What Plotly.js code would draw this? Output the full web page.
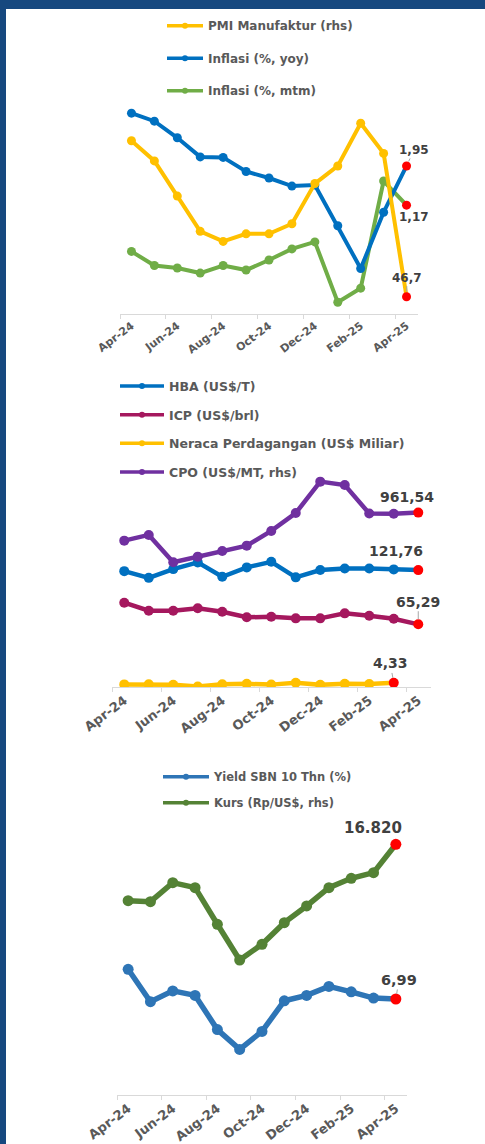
<!DOCTYPE html>
<html><head><meta charset="utf-8">
<script src="https://cdn.plot.ly/plotly-3.0.1.min.js"></script>
<style>html,body{margin:0;padding:0;background:#fff;} #chart{width:485px;height:1144px;}</style>
</head><body><div id="chart"></div>
<script>
// ---------- data ----------
const months = ['Apr-24','May-24','Jun-24','Jul-24','Aug-24','Sep-24','Oct-24','Nov-24','Dec-24','Jan-25','Feb-25','Mar-25','Apr-25'];

// Chart 1
const pmiManufaktur = [52.9,52.1,50.7,49.3,48.9,49.2,49.2,49.6,51.2,51.9,53.6,52.4,46.7];
const inflasiYoy    = [3.00,2.84,2.51,2.13,2.12,1.84,1.71,1.55,1.57,0.76,-0.09,1.03,1.95];
const inflasiMtm    = [0.25,-0.03,-0.08,-0.18,-0.03,-0.12,0.08,0.30,0.44,-0.76,-0.48,1.65,1.17];

// Chart 2
const hba    = [120.7,113.7,122.8,129.8,114.8,124.6,130.4,114.2,121.8,123.5,123.5,122.5,121.76];
const icp    = [87.8,79.5,79.5,82.0,78.4,72.6,73.2,71.5,71.5,76.7,74.2,71.1,65.29];
const neraca = [2.72,2.93,2.39,0.47,2.90,3.26,2.48,4.42,2.24,3.45,3.12,4.33];
const cpo    = [849.5,872.3,763.0,785.5,808.3,829.5,888.3,960.0,1085.5,1072.0,958.0,957.0,961.54];

// Chart 3
const yieldSbn = [7.32,6.96,7.08,7.03,6.65,6.43,6.63,6.97,7.03,7.13,7.07,7.00,6.99];
const kurs     = [16121,16108,16344,16282,15828,15385,15580,15848,16055,16282,16398,16468,16820];

// ---------- helpers ----------
const W = 485, H = 1144;
const px = v => v / W;
const py = v => 1 - v / H;
const FONT = 'DejaVu Sans, Verdana, sans-serif';
const RED = '#FF0000';
const lastRed = (arr, c) => arr.map((_, i) => i === arr.length - 1 ? RED : c);

const traces = [];
function line(name, x, y, color, xa, ya, legend, rank, width, msize) {
  traces.push({
    type: 'scatter', mode: 'lines+markers', name: name,
    x: x, y: y, xaxis: xa, yaxis: ya,
    line: {color: color, width: width},
    marker: {color: lastRed(y, color), size: msize, line: {width: 0}},
    legendgroup: name, showlegend: false,
    hoverinfo: 'skip'
  });
  // legend entry (no marks drawn), with a smaller legend symbol
  traces.push({
    type: 'scatter', mode: 'lines+markers', name: name,
    x: [null], y: [null], xaxis: xa, yaxis: ya,
    line: {color: color, width: 3.5},
    marker: {color: color, size: 6, line: {width: 0}},
    legend: legend, legendgroup: name, legendrank: rank, showlegend: true,
    hoverinfo: 'skip'
  });
}

// chart 1
line('Inflasi (%, mtm)', months, inflasiMtm, '#70AD47', 'x', 'y', 'legend', 3, 4, 9);
line('Inflasi (%, yoy)', months, inflasiYoy, '#0070C0', 'x', 'y', 'legend', 2, 4, 9);
line('PMI Manufaktur (rhs)', months, pmiManufaktur, '#FFC000', 'x', 'y2', 'legend', 1, 4, 9);
// chart 2
line('HBA (US$/T)', months, hba, '#0070C0', 'x2', 'y3', 'legend2', 1, 4.5, 10);
line('ICP (US$/brl)', months, icp, '#A5185E', 'x2', 'y3', 'legend2', 2, 4.5, 10);
line('Neraca Perdagangan (US$ Miliar)', months.slice(0, neraca.length), neraca, '#FFC000', 'x2', 'y3', 'legend2', 3, 4.5, 10);
line('CPO (US$/MT, rhs)', months, cpo, '#7030A0', 'x2', 'y4', 'legend2', 4, 4.5, 10);
// chart 3
line('Yield SBN 10 Thn (%)', months, yieldSbn, '#2E75B6', 'x3', 'y5', 'legend3', 1, 5.5, 11);
line('Kurs (Rp/US$, rhs)', months, kurs, '#548235', 'x3', 'y6', 'legend3', 2, 5.5, 11);

function xaxis(x0, x1, anchor, fs) {
  return {
    domain: [px(x0), px(x1)], anchor: anchor, type: 'category',
    categoryorder: 'array', categoryarray: months,
    range: [-0.5, months.length - 0.5],
    tickmode: 'linear', tick0: 0, dtick: 2, tickson: 'boundaries',
    ticks: 'outside', ticklen: 4, tickcolor: '#D9D9D9', tickwidth: 1,
    showline: true, linecolor: '#D9D9D9', linewidth: 1,
    showgrid: false, zeroline: false, tickangle: -37,
    tickfont: {family: FONT, size: fs, color: '#595959', weight: 'bold'},
    fixedrange: true
  };
}
function yaxis(top, bottom, range, overlay) {
  const a = {domain: [py(bottom), py(top)], range: range, visible: false, fixedrange: true, anchor: 'free', position: 0};
  if (overlay) { a.overlaying = overlay; a.side = 'right'; }
  return a;
}
function legend(x, yTop, fs, iw, gap) {
  return {
    x: px(x), y: py(yTop), xanchor: 'left', yanchor: 'top',
    orientation: 'v', traceorder: 'grouped', tracegroupgap: gap,
    itemwidth: iw, bgcolor: 'rgba(0,0,0,0)', borderwidth: 0,
    font: {family: FONT, size: fs, color: '#595959', weight: 'bold'},
    itemclick: false, itemdoubleclick: false
  };
}
function label(text, x, y, xref, yref, ax, ay, fs, leader) {
  return {
    text: text, x: x, y: y, xref: xref, yref: yref, ax: ax, ay: ay,
    showarrow: true, arrowhead: 0, arrowwidth: 1, standoff: 5,
    arrowcolor: leader ? '#A6A6A6' : 'rgba(0,0,0,0)',
    font: {family: FONT, size: fs, color: '#404040', weight: 'bold'}
  };
}

const n = months.length - 1;
const layout = {
  width: W, height: H,
  margin: {l: 0, r: 0, t: 0, b: 0, pad: 0},
  paper_bgcolor: '#FFFFFF', plot_bgcolor: 'rgba(0,0,0,0)',
  showlegend: true,
  xaxis:  xaxis(120, 418, 'y', 11),
  xaxis2: xaxis(112, 430.5, 'y3', 13),
  xaxis3: xaxis(117, 407, 'y5', 13),
  yaxis:  yaxis(88, 314.3, [-1, 3.5]),
  yaxis2: yaxis(88, 314.3, [46, 55], 'y'),
  yaxis3: yaxis(471, 687, [0, 225]),
  yaxis4: yaxis(471, 687, [264, 1128], 'y3'),
  yaxis5: yaxis(830, 1095, [5.923, 8.868]),
  yaxis6: yaxis(830, 1095, [13711, 16997], 'y5'),
  legend:  legend(162, 11.2, 12, 36, 13.5),
  legend2: legend(115, 371.4, 12.5, 44, 9.4),
  legend3: legend(158, 762.2, 11.5, 46, 7),
  annotations: [
    label('1,95', months[n], inflasiYoy[n], 'x', 'y', 7.5, -16, 12, true),
    label('1,17', months[n], inflasiMtm[n], 'x', 'y', 7.5, 12, 12, false),
    label('46,7', months[n], pmiManufaktur[n], 'x', 'y2', 0.5, -19, 12, true),
    label('961,54', months[n], cpo[n], 'x2', 'y4', -11, -16, 14, false),
    label('121,76', months[n], hba[n], 'x2', 'y3', -22, -19, 14, false),
    label('65,29', months[n], icp[n], 'x2', 'y3', 0, -22.6, 14, true),
    label('4,33', months[neraca.length - 1], neraca[neraca.length - 1], 'x2', 'y3', -3.5, -19.4, 14, true),
    label('16.820', months[n], kurs[n], 'x3', 'y6', -22.7, -16.6, 15, false),
    label('6,99', months[n], yieldSbn[n], 'x3', 'y5', 3, -19, 14.5, true)
  ],
  shapes: [
    {type: 'rect', xref: 'paper', yref: 'paper', x0: 0, x1: px(6), y0: 0, y1: 1, fillcolor: '#16487F', line: {width: 0}, layer: 'below'},
    {type: 'rect', xref: 'paper', yref: 'paper', x0: 0, x1: 1, y0: py(9), y1: 1, fillcolor: '#16487F', line: {width: 0}, layer: 'below'}
  ]
};

Plotly.newPlot('chart', traces, layout, {displayModeBar: false, staticPlot: true});
</script>
</body></html>
